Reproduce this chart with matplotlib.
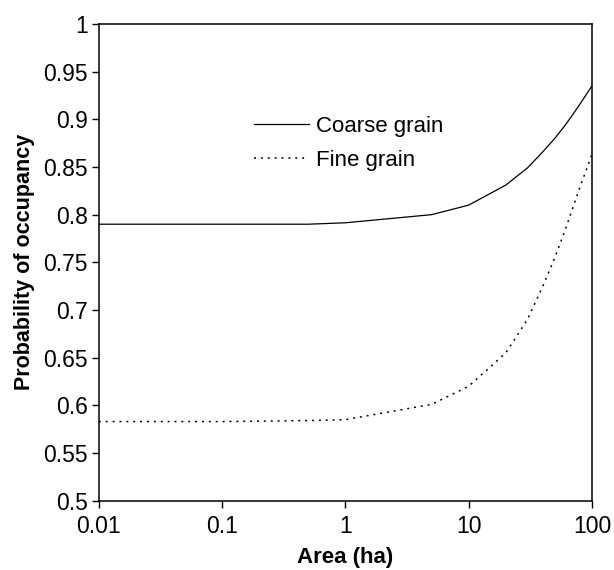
import numpy as np
import matplotlib
matplotlib.use("Agg")
import matplotlib.pyplot as plt
from matplotlib.ticker import FixedLocator, FuncFormatter, NullLocator

area = [0.01, 0.1, 0.5, 1, 5, 10, 20, 30, 40, 50, 60, 70, 80, 90, 100]
coarse = [0.790, 0.790, 0.790, 0.7915, 0.800, 0.810, 0.831, 0.849, 0.866,
          0.880, 0.893, 0.905, 0.916, 0.926, 0.935]
fine = [0.583, 0.583, 0.584, 0.585, 0.601, 0.620, 0.655, 0.690, 0.725,
        0.755, 0.782, 0.807, 0.829, 0.847, 0.863]

xticks = [0.01, 0.1, 1, 10, 100]
yticks = [0.5, 0.55, 0.6, 0.65, 0.7, 0.75, 0.8, 0.85, 0.9, 0.95, 1.0]

plt.rcParams.update({"font.family": ["Liberation Sans", "DejaVu Sans"], "font.size": 16})

fig = plt.figure(figsize=(6.14, 5.70), dpi=100)
ax = fig.add_axes([0.161, 0.1216, 0.803, 0.8363])

ax.plot(area, coarse, color="black", linewidth=0.9, label="Coarse grain")
ax.plot(area, fine, color="black", linewidth=1.1, linestyle=(0, (1.3, 3.2)), label="Fine grain")

ax.set_xscale("log")
ax.set_xlim(0.01, 100)
ax.set_ylim(0.5, 1.0)
ax.xaxis.set_major_locator(FixedLocator(xticks))
ax.xaxis.set_minor_locator(NullLocator())
ax.xaxis.set_major_formatter(FuncFormatter(lambda v, p: f"{v:g}"))
ax.yaxis.set_major_locator(FixedLocator(yticks))
ax.yaxis.set_major_formatter(FuncFormatter(lambda v, p: f"{v:g}"))
ax.tick_params(direction="out", length=5, width=1, labelsize=16.5)
ax.tick_params(axis="x", pad=5)
ax.tick_params(axis="y", pad=3)

for s in ax.spines.values():
    s.set_linewidth(1.1)

ax.set_xlabel("Area (ha)", fontweight="bold", fontsize=16, labelpad=7)
ax.set_ylabel("Probability of occupancy", fontweight="bold", fontsize=15.5, labelpad=6)

ax.legend(loc="upper left", bbox_to_anchor=(0.314, 0.808), frameon=False, fontsize=16,
          handlelength=2.5, handletextpad=0.3, labelspacing=0.6,
          borderpad=0, borderaxespad=0)

fig.savefig("out.png", dpi=100)
